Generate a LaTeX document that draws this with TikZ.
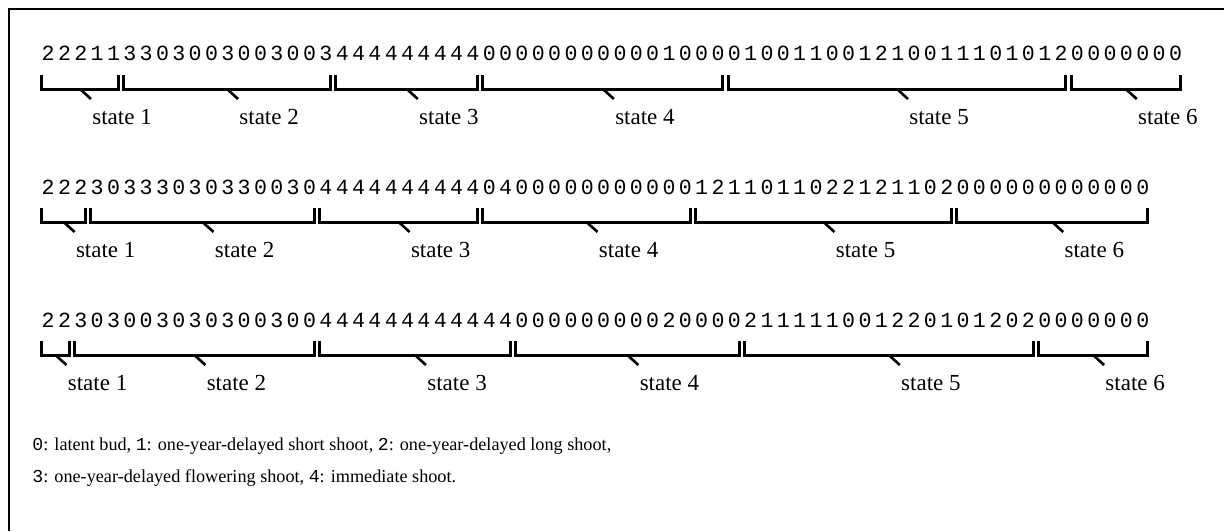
\documentclass[tikz,border=0pt]{standalone}
\usepackage{fontspec}
\setmainfont{Liberation Serif}
\setmonofont{Liberation Mono}
\def\spacedaux#1{\ifx#1\relax\else\makebox[8.17pt][c]{#1}\expandafter\spacedaux\fi}
\newcommand\spacedrow[1]{\spacedaux#1\relax}
\begin{document}
\begin{tikzpicture}[x=0.5pt,y=-0.5pt,
  digits/.style={anchor=west,inner sep=0pt,font=\ttfamily\fontsize{10.8}{12}\selectfont},
  brk/.style={line width=1.5pt,line join=miter},
  tickln/.style={line width=1.3pt},
  lbl/.style={anchor=west,inner sep=0pt,font=\fontsize{11.5}{13}\selectfont},
  legend/.style={anchor=west,inner sep=0pt,font=\fontsize{9.1}{11}\selectfont}]
\useasboundingbox (0,0) rectangle (1224,531);
\draw[line width=1pt] (9,531) -- (9,9) -- (1224,9);

\node[digits] (r1) at (39.6,53.5) {\spacedrow{2221133030030030034444444440000000000010000100110012100111010120000000}};
\node[digits] (r2) at (39.6,187.5) {\spacedrow{22230333030330030444444444404000000000001211011022121102000000000000}};
\node[digits] (r3) at (39.6,320) {\spacedrow{22303003030300300444444444444000000000200002111110012201012020000000}};

\foreach \r/\ly/\i/\j/\n in {
  1/89/0/4/1, 1/89/5/17/2, 1/89/18/26/3, 1/89/27/41/4, 1/89/42/62/5, 1/89/63/69/6,
  2/222/0/2/1, 2/222/3/16/2, 2/222/17/26/3, 2/222/27/39/4, 2/222/40/55/5, 2/222/56/67/6,
  3/355/0/1/1, 3/355/2/16/2, 3/355/17/28/3, 3/355/29/42/4, 3/355/43/60/5, 3/355/61/67/6} {
  \pgfmathsetmacro\L{47.8+16.34*\i-6}
  \pgfmathsetmacro\R{47.8+16.34*\j+5}
  \pgfmathsetmacro\M{(\L+\R)/2}
  \draw[brk] (\L,\ly-14) -- (\L,\ly) -- (\R,\ly) -- (\R,\ly-14);
  \coordinate (m\r\n) at (\M,\ly);
  \node[lbl] (s\r\n) at (\M+12,\ly+28) {state \n};
  \draw[tickln] (m\r\n) -- ++(11,10);
}

\node[legend] (leg1) at (32,446) {\texttt{0}: latent bud, \texttt{1}: one-year-delayed short shoot, \texttt{2}: one-year-delayed long shoot,};
\node[legend] (leg2) at (32,478) {\texttt{3}: one-year-delayed flowering shoot, \texttt{4}: immediate shoot.};
\end{tikzpicture}
\end{document}
